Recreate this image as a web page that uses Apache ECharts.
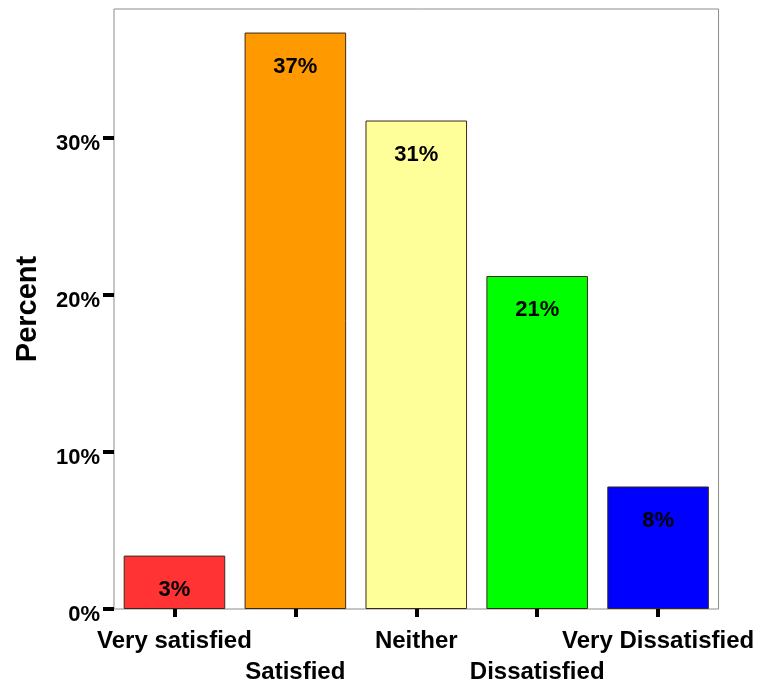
<!DOCTYPE html>
<html><head><meta charset="utf-8">
<script src="https://cdn.jsdelivr.net/npm/echarts@6/dist/echarts.min.js"></script>
<style>html,body{margin:0;padding:0;background:#fff}#c{width:757px;height:688px}</style>
</head><body><div id="c"></div>
<script>
var categories = ['Very satisfied', 'Satisfied', 'Neither', 'Dissatisfied', 'Very Dissatisfied'];
var percents = [3.4, 36.7, 31.1, 21.2, 7.8];
var barLabels = ['3%', '37%', '31%', '21%', '8%'];
var barColors = ['#FF3333', '#FF9900', '#FFFF99', '#00FF00', '#0000FF'];
var yTicks = [0, 10, 20, 30];
var yTickLabels = ['0%', '10%', '20%', '30%'];

var font = 'Liberation Sans, Arial, sans-serif';
var chart = echarts.init(document.getElementById('c'), null, {renderer: 'canvas'});
chart.setOption({
  animation: false,
  backgroundColor: '#fff',
  grid: {left: 114, right: 37, top: 9, bottom: 73, show: true, borderColor: '#8c8c8c', borderWidth: 1, backgroundColor: 'transparent'},
  xAxis: {
    type: 'category',
    data: categories,
    axisLine: {show: false},
    axisTick: {show: true, alignWithLabel: true, length: 8, lineStyle: {color: '#000', width: 4}},
    axisLabel: {
      interval: 0, margin: 17, color: '#000', fontFamily: font, fontWeight: 'bold', fontSize: 24, lineHeight: 31,
      formatter: function (v, i) { return i % 2 === 1 ? '\n' + v : v; }
    }
  },
  yAxis: {
    type: 'value', min: 0, max: 38.2, interval: 10,
    name: 'Percent', nameLocation: 'middle', nameGap: 72, nameRotate: 90,
    nameTextStyle: {color: '#000', fontFamily: font, fontWeight: 'bold', fontSize: 29},
    splitLine: {show: false},
    axisLine: {show: false},
    axisTick: {show: true, length: 11, customValues: yTicks, lineStyle: {color: '#000', width: 4}},
    axisLabel: {
      margin: 14, color: '#000', fontFamily: font, fontWeight: 'bold', fontSize: 22,
      verticalAlign: 'top', lineHeight: 12,
      customValues: yTicks,
      formatter: function (v) { var i = yTicks.indexOf(v); return i >= 0 ? yTickLabels[i] : ''; }
    }
  },
  series: [{
    type: 'bar',
    barCategoryGap: '16%',
    data: percents.map(function (v, i) {
      return {value: v, itemStyle: {color: barColors[i], borderColor: '#3a2a1a', borderWidth: 1}};
    }),
    label: {
      show: true, position: 'insideTop', distance: 23, color: '#000',
      fontFamily: font, fontWeight: 'bold', fontSize: 22,
      formatter: function (p) { return barLabels[p.dataIndex]; }
    }
  }]
});
</script></body></html>
